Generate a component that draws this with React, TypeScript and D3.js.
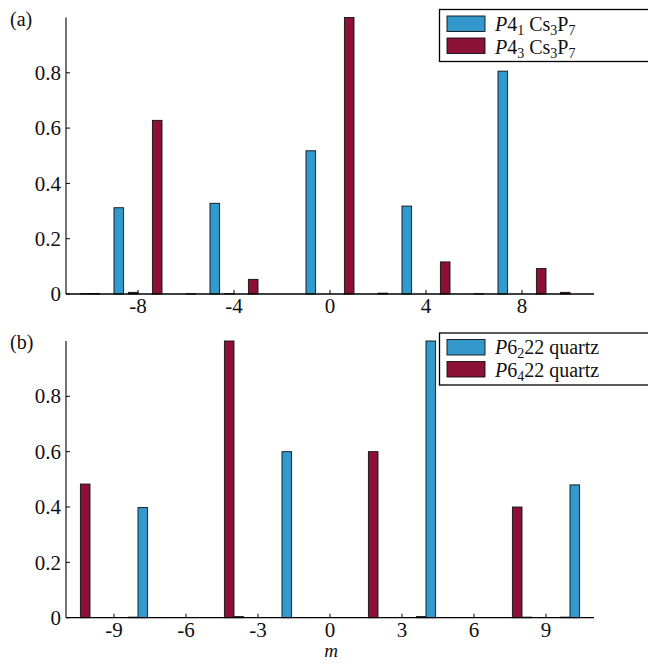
import React from "react";
import * as d3 from "d3";

const mValues = [-10, -9, -8, -7, -6, -5, -4, -3, -2, -1, 0, 1, 2, 3, 4, 5, 6, 7, 8, 9, 10];

// Panel (a): Cs3P7
const p41Values = [0.002, 0.312, 0, 0, 0.001, 0.328, 0, 0, 0, 0.518, 0, 0, 0.003, 0.318, 0, 0, 0.001, 0.806, 0, 0, 0];
const p43Values = [0.001, 0, 0.006, 0.628, 0, 0, 0.001, 0.053, 0, 0, 0, 1.0, 0, 0, 0, 0.116, 0, 0, 0, 0.092, 0.006];

// Panel (b): quartz
const p6222Values = [0, 0, 0.398, 0, 0, 0, 0.004, 0, 0.6, 0, 0, 0, 0, 0, 1.0, 0, 0, 0, 0.002, 0, 0.48];
const p6422Values = [0.483, 0, 0.002, 0, 0, 0, 1.0, 0, 0, 0, 0, 0, 0.6, 0, 0.004, 0, 0, 0, 0.4, 0, 0.002];

const xTicksA = [-8, -4, 0, 4, 8];
const xTicksB = [-9, -6, -3, 0, 3, 6, 9];
const yTicks = [0, 0.2, 0.4, 0.6, 0.8];

const BLUE = "#3399cc";
const RED = "#8b1236";
const FONT = "'Liberation Serif', 'DejaVu Serif', serif";

type PanelProps = {
  top: number;
  bottom: number;
  blue: number[];
  red: number[];
  xTicks: number[];
  label: string;
  legend: React.ReactNode[];
};

const LEFT = 66;
const RIGHT = 594;

function Panel({ top, bottom, blue, red, xTicks, label, legend }: PanelProps) {
  const x = d3.scaleLinear().domain([-11, 11]).range([LEFT, RIGHT]);
  const y = d3.scaleLinear().domain([0, 1]).range([bottom, top]);
  const w = 0.4;
  return (
    <g>
      {mValues.map((m, i) => (
        <rect
          key={"r" + m}
          x={x(m - w)}
          y={y(red[i])}
          width={x(m) - x(m - w)}
          height={y(0) - y(red[i])}
          fill={RED}
          stroke="#111"
          strokeWidth={0.9}
        />
      ))}
      {mValues.map((m, i) => (
        <rect
          key={"b" + m}
          x={x(m)}
          y={y(blue[i])}
          width={x(m + w) - x(m)}
          height={y(0) - y(blue[i])}
          fill={BLUE}
          stroke="#111"
          strokeWidth={0.9}
        />
      ))}
      <line x1={LEFT} x2={LEFT} y1={y(1)} y2={y(0)} stroke="#000" strokeWidth={1.1} />
      <line x1={LEFT} x2={RIGHT} y1={y(0)} y2={y(0)} stroke="#000" strokeWidth={1.3} />
      {yTicks.map((t) => (
        <g key={"yt" + t}>
          <line x1={LEFT} x2={LEFT + 4} y1={y(t)} y2={y(t)} stroke="#000" strokeWidth={1} />
          <text
            x={LEFT - 5}
            y={y(t)}
            dy="0.34em"
            textAnchor="end"
            fontFamily={FONT}
            fontSize={21}
            fill="#111"
          >
            {t === 0 ? "0" : d3.format(".1f")(t)}
          </text>
        </g>
      ))}
      {xTicks.map((t) => (
        <g key={"xt" + t}>
          <line x1={x(t)} x2={x(t)} y1={y(0)} y2={y(0) - 4} stroke="#000" strokeWidth={1} />
          <text
            x={x(t)}
            y={y(0) + 19}
            textAnchor="middle"
            fontFamily={FONT}
            fontSize={21}
            fill="#111"
          >
            {t < 0 ? "-" + Math.abs(t) : String(t)}
          </text>
        </g>
      ))}
      <text x={10} y={top + 8} fontFamily={FONT} fontSize={20} fill="#111">
        {label}
      </text>
      {/* legend */}
      <rect x={439.5} y={top - 8} width={220} height={52} fill="#fff" stroke="#000" strokeWidth={1.3} />
      <rect x={447} y={top - 1.5} width={38} height={15.5} fill={BLUE} stroke="#111" strokeWidth={0.9} />
      <rect x={447} y={top + 20.5} width={38} height={15.5} fill={RED} stroke="#111" strokeWidth={0.9} />
      <text x={495} y={top + 13} fontFamily={FONT} fontSize={20} fill="#111">
        {legend[0]}
      </text>
      <text x={495} y={top + 36} fontFamily={FONT} fontSize={20} fill="#111">
        {legend[1]}
      </text>
    </g>
  );
}

export default function App() {
  const legendA = [
    <>
      <tspan fontStyle="italic">P</tspan>4<tspan dy={4} fontSize={14}>1</tspan>
      <tspan dy={-4}> Cs</tspan><tspan dy={4} fontSize={14}>3</tspan>
      <tspan dy={-4}>P</tspan><tspan dy={4} fontSize={14}>7</tspan>
    </>,
    <>
      <tspan fontStyle="italic">P</tspan>4<tspan dy={4} fontSize={14}>3</tspan>
      <tspan dy={-4}> Cs</tspan><tspan dy={4} fontSize={14}>3</tspan>
      <tspan dy={-4}>P</tspan><tspan dy={4} fontSize={14}>7</tspan>
    </>,
  ];
  const legendB = [
    <>
      <tspan fontStyle="italic">P</tspan>6<tspan dy={4} fontSize={14}>2</tspan>
      <tspan dy={-4}>22 quartz</tspan>
    </>,
    <>
      <tspan fontStyle="italic">P</tspan>6<tspan dy={4} fontSize={14}>4</tspan>
      <tspan dy={-4}>22 quartz</tspan>
    </>,
  ];
  return (
    <svg
      width={648}
      height={664}
      style={{ position: "absolute", left: 0, top: 0, background: "#fff" }}
    >
      <rect width={648} height={664} fill="#fff" />
      <Panel top={17.5} bottom={294} blue={p41Values} red={p43Values} xTicks={xTicksA} label="(a)" legend={legendA} />
      <Panel top={341} bottom={617.7} blue={p6222Values} red={p6422Values} xTicks={xTicksB} label="(b)" legend={legendB} />
      <text x={331} y={657} textAnchor="middle" fontFamily={FONT} fontStyle="italic" fontSize={19} fill="#111">
        m
      </text>
    </svg>
  );
}
